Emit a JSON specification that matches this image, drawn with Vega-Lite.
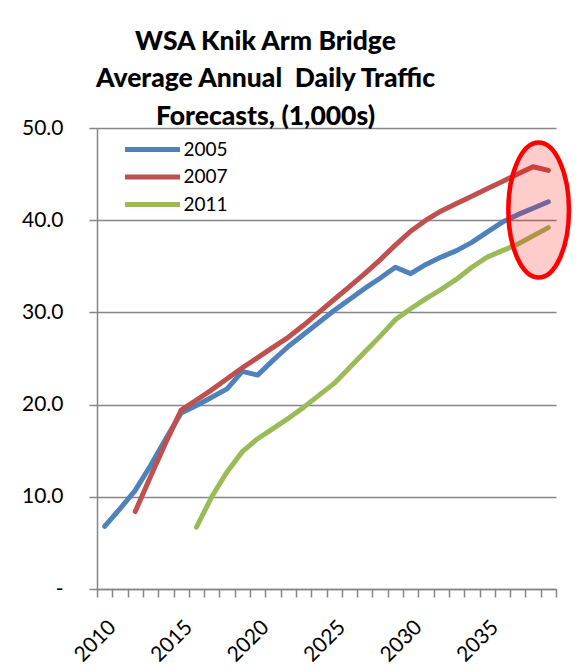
{
  "$schema": "https://vega.github.io/schema/vega-lite/v6.json",
  "width": 459,
  "height": 461,
  "autosize": {"type": "none"},
  "padding": {"left": 97, "top": 128, "right": 25, "bottom": 81},
  "background": "white",
  "config": {"view": {"stroke": null}, "font": "Lato"},
  "title": {
    "text": ["WSA Knik Arm Bridge", "Average Annual\u00a0 Daily Traffic", "Forecasts, (1,000s)"],
    "font": "Lato",
    "fontSize": 26.5,
    "fontWeight": 900,
    "color": "black",
    "anchor": "middle",
    "frame": "group",
    "dx": -61,
    "lineHeight": 37.5,
    "offset": -13
  },
  "data": {
    "values": [
      {"year": 2010, "series": "2005", "value": 6.8},
      {"year": 2011, "series": "2005", "value": 8.7},
      {"year": 2012, "series": "2005", "value": 10.7},
      {"year": 2013, "series": "2005", "value": 13.4},
      {"year": 2014, "series": "2005", "value": 16.3},
      {"year": 2015, "series": "2005", "value": 19.1},
      {"year": 2016, "series": "2005", "value": 19.9},
      {"year": 2017, "series": "2005", "value": 20.8},
      {"year": 2018, "series": "2005", "value": 21.7},
      {"year": 2019, "series": "2005", "value": 23.6},
      {"year": 2020, "series": "2005", "value": 23.2},
      {"year": 2021, "series": "2005", "value": 24.8},
      {"year": 2022, "series": "2005", "value": 26.3},
      {"year": 2023, "series": "2005", "value": 27.6},
      {"year": 2024, "series": "2005", "value": 28.9},
      {"year": 2025, "series": "2005", "value": 30.2},
      {"year": 2026, "series": "2005", "value": 31.4},
      {"year": 2027, "series": "2005", "value": 32.6},
      {"year": 2028, "series": "2005", "value": 33.7},
      {"year": 2029, "series": "2005", "value": 34.9},
      {"year": 2030, "series": "2005", "value": 34.2},
      {"year": 2031, "series": "2005", "value": 35.2},
      {"year": 2032, "series": "2005", "value": 36.0},
      {"year": 2033, "series": "2005", "value": 36.7},
      {"year": 2034, "series": "2005", "value": 37.6},
      {"year": 2035, "series": "2005", "value": 38.7},
      {"year": 2036, "series": "2005", "value": 39.8},
      {"year": 2037, "series": "2005", "value": 40.6},
      {"year": 2038, "series": "2005", "value": 41.3},
      {"year": 2039, "series": "2005", "value": 42.0},
      {"year": 2012, "series": "2007", "value": 8.4},
      {"year": 2013, "series": "2007", "value": 12.2},
      {"year": 2014, "series": "2007", "value": 15.9},
      {"year": 2015, "series": "2007", "value": 19.4},
      {"year": 2016, "series": "2007", "value": 20.5},
      {"year": 2017, "series": "2007", "value": 21.6},
      {"year": 2018, "series": "2007", "value": 22.8},
      {"year": 2019, "series": "2007", "value": 24.0},
      {"year": 2020, "series": "2007", "value": 25.1},
      {"year": 2021, "series": "2007", "value": 26.2},
      {"year": 2022, "series": "2007", "value": 27.3},
      {"year": 2023, "series": "2007", "value": 28.6},
      {"year": 2024, "series": "2007", "value": 30.0},
      {"year": 2025, "series": "2007", "value": 31.4},
      {"year": 2026, "series": "2007", "value": 32.8},
      {"year": 2027, "series": "2007", "value": 34.2},
      {"year": 2028, "series": "2007", "value": 35.7},
      {"year": 2029, "series": "2007", "value": 37.3},
      {"year": 2030, "series": "2007", "value": 38.8},
      {"year": 2031, "series": "2007", "value": 40.0},
      {"year": 2032, "series": "2007", "value": 41.0},
      {"year": 2033, "series": "2007", "value": 41.8},
      {"year": 2034, "series": "2007", "value": 42.6},
      {"year": 2035, "series": "2007", "value": 43.4},
      {"year": 2036, "series": "2007", "value": 44.2},
      {"year": 2037, "series": "2007", "value": 45.0},
      {"year": 2038, "series": "2007", "value": 45.8},
      {"year": 2039, "series": "2007", "value": 45.4},
      {"year": 2016, "series": "2011", "value": 6.7},
      {"year": 2017, "series": "2011", "value": 10.0},
      {"year": 2018, "series": "2011", "value": 12.7},
      {"year": 2019, "series": "2011", "value": 14.9},
      {"year": 2020, "series": "2011", "value": 16.3},
      {"year": 2021, "series": "2011", "value": 17.4},
      {"year": 2022, "series": "2011", "value": 18.5},
      {"year": 2023, "series": "2011", "value": 19.7},
      {"year": 2024, "series": "2011", "value": 21.0},
      {"year": 2025, "series": "2011", "value": 22.3},
      {"year": 2026, "series": "2011", "value": 24.0},
      {"year": 2027, "series": "2011", "value": 25.7},
      {"year": 2028, "series": "2011", "value": 27.4},
      {"year": 2029, "series": "2011", "value": 29.2},
      {"year": 2030, "series": "2011", "value": 30.4},
      {"year": 2031, "series": "2011", "value": 31.5},
      {"year": 2032, "series": "2011", "value": 32.5},
      {"year": 2033, "series": "2011", "value": 33.6},
      {"year": 2034, "series": "2011", "value": 34.9},
      {"year": 2035, "series": "2011", "value": 36.0},
      {"year": 2036, "series": "2011", "value": 36.7},
      {"year": 2037, "series": "2011", "value": 37.4},
      {"year": 2038, "series": "2011", "value": 38.3},
      {"year": 2039, "series": "2011", "value": 39.2}
    ]
  },
  "layer": [
    {
      "mark": {"type": "line", "strokeWidth": 5, "strokeCap": "round", "strokeJoin": "round"},
      "encoding": {
        "x": {
          "field": "year",
          "type": "ordinal",
          "bandPosition": 0.5,
          "scale": {"type": "band", "paddingInner": 0, "paddingOuter": 0},
          "axis": {
            "title": null,
            "tickBand": "extent",
            "labelAngle": -45,
            "labelExpr": "datum.value % 5 == 0 ? datum.label : ''",
            "labelFont": "Lato",
            "labelFontSize": 21,
            "labelColor": "black",
            "labelPadding": 19,
            "tickColor": "#868686",
            "tickSize": 8,
            "tickWidth": 1.5,
            "domainColor": "#868686",
            "domainWidth": 1.5,
            "grid": false
          }
        },
        "y": {
          "field": "value",
          "type": "quantitative",
          "scale": {"domain": [0, 50]},
          "axis": {
            "title": null,
            "values": [0, 10, 20, 30, 40, 50],
            "labelExpr": "datum.value == 0 ? '-\u2002' : format(datum.value, '.1f')",
            "labelFont": "Lato",
            "labelFontSize": 21,
            "labelColor": "black",
            "labelPadding": 26,
            "tickColor": "#868686",
            "tickSize": 8,
            "tickWidth": 1.5,
            "domainColor": "#868686",
            "domainWidth": 1.5,
            "gridColor": "#868686",
            "gridWidth": 1.5
          }
        },
        "color": {
          "field": "series",
          "type": "nominal",
          "scale": {"domain": ["2005", "2007", "2011"], "range": ["#4F81BD", "#C0504D", "#9BBB59"]},
          "legend": {
            "title": null,
            "orient": "none",
            "legendX": 38.5,
            "legendY": 4.5,
            "padding": 0,
            "rowPadding": 0.5,
            "symbolType": "M-1.9,0L1.9,0",
            "symbolSize": 841,
            "symbolStrokeWidth": 5,
            "labelFont": "Lato",
            "labelFontSize": 19,
            "labelColor": "black",
            "labelOffset": 14
          }
        }
      }
    },
    {
      "data": {"values": [{"year": 2038, "value": 41.1}]},
      "mark": {
        "type": "point",
        "shape": "M-0.366,0A0.449,1,0,1,0,0.532,0A0.449,1,0,1,0,-0.366,0Z",
        "size": 18225,
        "filled": true,
        "fill": "#FF0000",
        "fillOpacity": 0.2,
        "stroke": "#FF0000",
        "strokeOpacity": 1,
        "strokeWidth": 4.5,
        "opacity": 1
      },
      "encoding": {
        "x": {"field": "year", "type": "ordinal", "bandPosition": 0.5},
        "y": {"field": "value", "type": "quantitative"}
      }
    }
  ]
}
